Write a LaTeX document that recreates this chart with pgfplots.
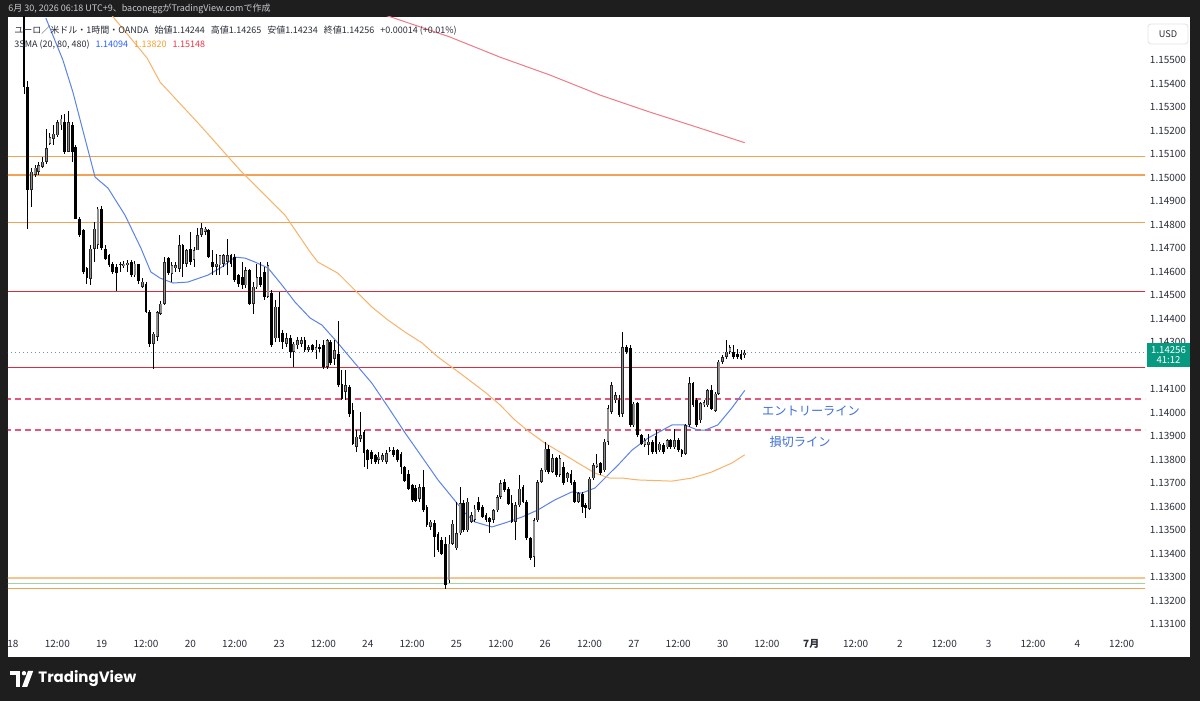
\documentclass[border=0pt]{standalone}
\usepackage{fontspec}
\setmainfont{Noto Sans CJK JP}
\newfontfamily\tvfont{Poppins}
\usepackage{pgfplots}
\usepackage{pgfplotstable}
\pgfplotsset{compat=1.18}
\definecolor{frame}{HTML}{1E1E1E}
\definecolor{hdr}{HTML}{C8CACF}
\definecolor{axtxt}{HTML}{2A2E39}
\definecolor{smablue}{HTML}{5B84E8}
\definecolor{smaorange}{HTML}{F7B36A}
\definecolor{smared}{HTML}{F07A88}
\definecolor{horange}{HTML}{F2A255}
\definecolor{levelred}{RGB}{214,48,62}
\definecolor{hpink}{HTML}{E4577A}
\definecolor{peach}{HTML}{F6C48F}
\definecolor{hgreen}{HTML}{A3D3A3}
\definecolor{tvteal}{HTML}{089981}
\definecolor{upgray}{HTML}{8E8E8E}
\definecolor{annblue}{HTML}{3F6FD8}
\definecolor{lgblue}{HTML}{2962FF}
\definecolor{lgorange}{HTML}{F59E2B}
\definecolor{lgred}{HTML}{F23645}
\definecolor{dotc}{HTML}{6E9C9C}
\definecolor{bordergray}{HTML}{E0E3EB}

\pgfplotstableread{
t o h l c
3 1.15820 1.15900 1.15358 1.15386
4 1.15386 1.15414 1.14783 1.14947
5 1.14947 1.15039 1.14876 1.15025
6 1.15013 1.15053 1.15003 1.15042
7 1.15025 1.15067 1.15013 1.15053
8 1.15046 1.15088 1.15039 1.15067
9 1.15067 1.15209 1.15060 1.15124
10 1.15145 1.15188 1.15138 1.15173
11 1.15166 1.15223 1.15138 1.15188
12 1.15181 1.15244 1.15173 1.15237
13 1.15223 1.15266 1.15202 1.15251
14 1.15237 1.15273 1.15103 1.15110
15 1.15110 1.15283 1.15107 1.15237
16 1.15223 1.15237 1.15067 1.15110
17 1.15131 1.15138 1.14823 1.14826
18 1.14826 1.14833 1.14748 1.14755
19 1.14776 1.14783 1.14592 1.14599
20 1.14613 1.14620 1.14549 1.14571
21 1.14571 1.14713 1.14542 1.14698
22 1.14698 1.14812 1.14642 1.14783
23 1.14713 1.14876 1.14698 1.14868
24 1.14868 1.14880 1.14691 1.14698
25 1.14698 1.14713 1.14649 1.14656
26 1.14670 1.14677 1.14620 1.14627
27 1.14634 1.14642 1.14592 1.14599
28 1.14620 1.14634 1.14517 1.14592
29 1.14630 1.14642 1.14599 1.14634
30 1.14625 1.14645 1.14613 1.14634
31 1.14627 1.14649 1.14599 1.14639
32 1.14639 1.14649 1.14578 1.14585
33 1.14585 1.14645 1.14578 1.14634
34 1.14630 1.14634 1.14549 1.14557
35 1.14535 1.14571 1.14528 1.14557
36 1.14549 1.14557 1.14425 1.14429
37 1.14429 1.14436 1.14280 1.14294
38 1.14294 1.14344 1.14188 1.14337
39 1.14323 1.14436 1.14308 1.14429
40 1.14422 1.14478 1.14415 1.14464
41 1.14464 1.14663 1.14457 1.14641
42 1.14656 1.14663 1.14585 1.14592
43 1.14592 1.14641 1.14556 1.14627
44 1.14613 1.14641 1.14599 1.14627
45 1.14613 1.14755 1.14599 1.14712
46 1.14712 1.14719 1.14578 1.14634
47 1.14634 1.14698 1.14620 1.14691
48 1.14698 1.14769 1.14627 1.14641
49 1.14649 1.14705 1.14620 1.14691
50 1.14691 1.14783 1.14691 1.14755
51 1.14755 1.14809 1.14748 1.14783
52 1.14769 1.14790 1.14755 1.14783
53 1.14776 1.14783 1.14656 1.14663
54 1.14641 1.14691 1.14585 1.14620
55 1.14620 1.14677 1.14585 1.14634
56 1.14627 1.14670 1.14585 1.14670
57 1.14634 1.14677 1.14620 1.14670
58 1.14641 1.14741 1.14585 1.14670
59 1.14670 1.14677 1.14620 1.14634
60 1.14663 1.14677 1.14556 1.14564
61 1.14585 1.14592 1.14535 1.14549
62 1.14578 1.14641 1.14528 1.14542
63 1.14542 1.14620 1.14528 1.14606
64 1.14606 1.14613 1.14457 1.14464
65 1.14464 1.14556 1.14422 1.14535
66 1.14535 1.14634 1.14528 1.14578
67 1.14578 1.14641 1.14535 1.14542
68 1.14599 1.14620 1.14478 1.14493
69 1.14493 1.14641 1.14486 1.14627
70 1.14507 1.14521 1.14280 1.14287
71 1.14316 1.14478 1.14301 1.14450
72 1.14450 1.14514 1.14301 1.14316
73 1.14337 1.14351 1.14273 1.14301
74 1.14294 1.14337 1.14280 1.14316
75 1.14316 1.14330 1.14233 1.14259
76 1.14259 1.14301 1.14195 1.14294
77 1.14287 1.14323 1.14273 1.14308
78 1.14294 1.14323 1.14280 1.14308
79 1.14308 1.14323 1.14259 1.14266
80 1.14268 1.14287 1.14259 1.14280
81 1.14287 1.14294 1.14259 1.14266
82 1.14266 1.14308 1.14230 1.14280
83 1.14280 1.14294 1.14259 1.14270
84 1.14290 1.14308 1.14188 1.14195
85 1.14195 1.14315 1.14188 1.14308
86 1.14301 1.14308 1.14202 1.14209
87 1.14230 1.14308 1.14202 1.14266
88 1.14250 1.14393 1.14110 1.14117
89 1.14124 1.14181 1.14053 1.14060
90 1.14088 1.14181 1.14053 1.14117
91 1.14110 1.14117 1.13982 1.13996
92 1.14010 1.14039 1.13861 1.13868
93 1.13854 1.13925 1.13833 1.13897
94 1.13890 1.14003 1.13876 1.13904
95 1.13918 1.13925 1.13769 1.13826
96 1.13840 1.13847 1.13762 1.13798
97 1.13833 1.13840 1.13783 1.13805
98 1.13819 1.13826 1.13783 1.13790
99 1.13798 1.13833 1.13783 1.13812
100 1.13798 1.13826 1.13790 1.13819
101 1.13790 1.13840 1.13783 1.13826
102 1.13840 1.13854 1.13833 1.13843
103 1.13843 1.13854 1.13812 1.13819
104 1.13840 1.13847 1.13790 1.13798
105 1.13826 1.13833 1.13741 1.13769
106 1.13769 1.13776 1.13705 1.13712
107 1.13741 1.13755 1.13670 1.13677
108 1.13691 1.13698 1.13620 1.13627
109 1.13680 1.13691 1.13620 1.13627
110 1.13635 1.13698 1.13620 1.13684
111 1.13684 1.13755 1.13578 1.13585
112 1.13599 1.13606 1.13514 1.13521
113 1.13514 1.13542 1.13500 1.13535
114 1.13528 1.13542 1.13387 1.13472
115 1.13486 1.13493 1.13408 1.13415
116 1.13457 1.13472 1.13394 1.13401
117 1.13443 1.13472 1.13252 1.13266
118 1.13287 1.13479 1.13273 1.13443
119 1.13443 1.13542 1.13436 1.13528
120 1.13422 1.13620 1.13415 1.13486
121 1.13486 1.13684 1.13479 1.13614
122 1.13614 1.13628 1.13493 1.13500
123 1.13500 1.13635 1.13493 1.13621
124 1.13536 1.13578 1.13529 1.13564
125 1.13543 1.13606 1.13536 1.13592
126 1.13621 1.13639 1.13578 1.13585
127 1.13599 1.13606 1.13550 1.13557
128 1.13564 1.13571 1.13536 1.13543
129 1.13550 1.13557 1.13486 1.13536
130 1.13543 1.13592 1.13529 1.13585
131 1.13585 1.13649 1.13578 1.13642
132 1.13642 1.13713 1.13635 1.13699
133 1.13706 1.13720 1.13663 1.13670
134 1.13677 1.13684 1.13607 1.13614
135 1.13614 1.13649 1.13529 1.13536
136 1.13536 1.13621 1.13458 1.13606
137 1.13606 1.13734 1.13599 1.13677
138 1.13684 1.13691 1.13614 1.13621
139 1.13621 1.13628 1.13458 1.13465
140 1.13465 1.13472 1.13373 1.13380
141 1.13387 1.13550 1.13344 1.13543
142 1.13543 1.13713 1.13536 1.13706
143 1.13706 1.13763 1.13699 1.13755
144 1.13755 1.13876 1.13748 1.13847
145 1.13847 1.13861 1.13741 1.13748
146 1.13748 1.13826 1.13741 1.13805
147 1.13805 1.13812 1.13727 1.13734
148 1.13734 1.13820 1.13727 1.13805
149 1.13770 1.13790 1.13692 1.13699
150 1.13720 1.13748 1.13706 1.13741
151 1.13741 1.13755 1.13692 1.13699
152 1.13706 1.13713 1.13614 1.13621
153 1.13621 1.13663 1.13614 1.13656
154 1.13656 1.13663 1.13571 1.13599
155 1.13606 1.13614 1.13550 1.13592
156 1.13592 1.13727 1.13585 1.13720
157 1.13720 1.13784 1.13713 1.13777
158 1.13770 1.13826 1.13763 1.13784
159 1.13784 1.13790 1.13734 1.13741
160 1.13755 1.13890 1.13748 1.13876
161 1.13876 1.14032 1.13862 1.14017
162 1.14003 1.14131 1.13996 1.14117
163 1.14053 1.14088 1.14039 1.14074
164 1.14053 1.14074 1.13982 1.13989
165 1.13996 1.14344 1.13982 1.14280
166 1.14280 1.14287 1.14251 1.14259
167 1.14273 1.14287 1.13940 1.13947
168 1.13947 1.14046 1.13940 1.14039
169 1.14039 1.14046 1.13897 1.13904
170 1.13904 1.13911 1.13862 1.13869
171 1.13862 1.13890 1.13855 1.13883
172 1.13862 1.13911 1.13819 1.13876
173 1.13876 1.13883 1.13826 1.13833
174 1.13900 1.13925 1.13826 1.13833
175 1.13840 1.13876 1.13833 1.13869
176 1.13862 1.13869 1.13826 1.13833
177 1.13854 1.13890 1.13847 1.13883
178 1.13883 1.13890 1.13847 1.13854
179 1.13854 1.13932 1.13847 1.13883
180 1.13883 1.13890 1.13833 1.13840
181 1.13840 1.13847 1.13812 1.13826
182 1.13826 1.13954 1.13819 1.13947
183 1.13947 1.14152 1.13940 1.14124
184 1.14124 1.14131 1.14025 1.14032
185 1.14053 1.14060 1.13940 1.13947
186 1.13968 1.14046 1.13954 1.14039
187 1.14032 1.14053 1.14025 1.14046
188 1.14032 1.14102 1.14025 1.14095
189 1.14095 1.14117 1.14010 1.14017
190 1.14010 1.14088 1.14003 1.14081
191 1.14081 1.14223 1.14074 1.14216
192 1.14216 1.14244 1.14209 1.14237
193 1.14237 1.14308 1.14230 1.14259
194 1.14259 1.14287 1.14251 1.14280
195 1.14259 1.14287 1.14230 1.14237
196 1.14251 1.14273 1.14230 1.14237
197 1.14251 1.14266 1.14223 1.14230
198 1.14244 1.14265 1.14234 1.14256
}\candles

\begin{document}
\begin{tikzpicture}
\useasboundingbox (-4pt,-34.5pt) rectangle (596pt,316pt);
\fill[frame] (-4pt,-34.5pt) rectangle (596pt,316pt);
\fill[white] (0pt,-12.5pt) rectangle (591pt,307.5pt);
\begin{axis}[
  at={(0pt,0pt)}, anchor=south west, scale only axis,
  width=568.5pt, height=307.5pt,
  xmin=-1.35, xmax=306.3, ymin=1.13066, ymax=1.15683,
  axis line style={draw=none}, tick style={draw=none},
  /pgf/number format/assume math mode=true,
  scaled y ticks=false,
  ytick={1.131,1.132,1.133,1.134,1.135,1.136,1.137,1.138,1.139,1.140,1.141,1.143,1.144,1.145,1.146,1.147,1.148,1.149,1.150,1.151,1.152,1.153,1.154,1.155},
  yticklabel pos=right,
  yticklabel style={/pgf/number format/fixed, /pgf/number format/fixed zerofill, /pgf/number format/precision=5, font=\fontsize{5}{6}\selectfont, text=axtxt, anchor=center, xshift=11.5pt},
  xtick={0,12,24,36,48,60,72,84,96,108,120,132,144,156,168,180,192,204,216,228,240,252,264,276,288,300},
  xticklabels={18,12:00,19,12:00,20,12:00,23,12:00,24,12:00,25,12:00,26,12:00,27,12:00,30,12:00,\textbf{7月},12:00,2,12:00,3,12:00,4,12:00},
  xticklabel style={font=\fontsize{5}{6}\selectfont, text=axtxt, anchor=center, yshift=-6pt},
  clip=true,
]
% horizontal levels
\addplot[color=horange, line width=0.6pt, forget plot] coordinates {(-5,1.15089) (310,1.15089)};
\addplot[color=horange, line width=0.6pt, forget plot] coordinates {(-5,1.15011) (310,1.15011)};
\addplot[color=horange, line width=0.6pt, forget plot] coordinates {(-5,1.14809) (310,1.14809)};
\addplot[color=levelred, line width=0.6pt, forget plot] coordinates {(-5,1.14515) (310,1.14515)};
\addplot[color=levelred, line width=0.6pt, forget plot] coordinates {(-5,1.14191) (310,1.14191)};
\addplot[color=hpink, line width=0.7pt, dash pattern=on 3pt off 2pt, forget plot] coordinates {(-5,1.14058) (310,1.14058)};
\addplot[color=hpink, line width=0.7pt, dash pattern=on 3pt off 2pt, forget plot] coordinates {(-5,1.13925) (310,1.13925)};
\addplot[color=peach, line width=0.6pt, forget plot] coordinates {(-5,1.13296) (310,1.13296)};
\addplot[color=hgreen, line width=0.6pt, forget plot] coordinates {(-5,1.13272) (310,1.13272)};
\addplot[color=horange, line width=0.6pt, forget plot] coordinates {(-5,1.13252) (310,1.13252)};
\addplot[color=dotc, line width=0.4pt, dash pattern=on 0.5pt off 1.5pt, forget plot] coordinates {(-5,1.14256) (310,1.14256)};
% SMA lines
\addplot[color=smablue, line width=0.5pt, forget plot] coordinates {(8.9,1.15678) (13.5,1.15500) (16.2,1.15364) (22.2,1.15002) (25.7,1.14955) (30.3,1.14840) (34.6,1.14700) (37.3,1.14598) (39.8,1.14572) (43.3,1.14551) (47.3,1.14555) (52.8,1.14585) (56.5,1.14619) (60.1,1.14661) (62.8,1.14657) (65.5,1.14640) (69.0,1.14615) (72.8,1.14542) (76.3,1.14470) (80.4,1.14402) (83.6,1.14372) (87.9,1.14296) (92.5,1.14210) (97.1,1.14125) (101.5,1.14023) (106.1,1.13913) (110.7,1.13810) (115.0,1.13713) (118.8,1.13640) (122.3,1.13572) (125.0,1.13534) (129.6,1.13513) (133.1,1.13530) (137.7,1.13555) (142.0,1.13585) (146.6,1.13628) (151.2,1.13662) (153.9,1.13657) (157.5,1.13679) (161.5,1.13742) (163.7,1.13776) (167.5,1.13840) (171.8,1.13891) (178.3,1.13947) (181.8,1.13947) (185.3,1.13925) (187.2,1.13925) (190.7,1.13947) (194.5,1.14019) (198,1.14094)};
\addplot[color=smaorange, line width=0.5pt, forget plot] coordinates {(26.8,1.15689) (36.3,1.15508) (39.8,1.15406) (50.6,1.15223) (61.4,1.15032) (73.6,1.14840) (80.4,1.14683) (82.5,1.14640) (87.9,1.14593) (92.5,1.14521) (97.1,1.14449) (101.5,1.14393) (106.1,1.14342) (110.7,1.14296) (115.0,1.14236) (120.9,1.14168) (127.7,1.14087) (131.8,1.14032) (135.8,1.13968) (139.1,1.13925) (143.9,1.13870) (148.5,1.13827) (152.9,1.13785) (157.5,1.13742) (161.5,1.13721) (164.8,1.13721) (169.1,1.13713) (178.3,1.13708) (183.7,1.13721) (189.1,1.13747) (194.5,1.13785) (198,1.13820)};
\addplot[color=smared, line width=0.5pt, forget plot] coordinates {(100,1.15695) (118.2,1.15598) (131.8,1.15512) (145.3,1.15436) (158.8,1.15351) (172.4,1.15278) (185.9,1.15210) (198,1.15148)};
% candles: wicks
\addplot[draw=none, mark=none, forget plot,
  error bars/.cd, y dir=both, y explicit, error mark=none,
  error bar style={line width=0.5pt, draw=black, solid}]
  table[x=t, y expr={(\thisrow{h}+\thisrow{l})/2}, y error expr={(\thisrow{h}-\thisrow{l})/2}] {\candles};
% down bodies
\addplot[draw=none, mark=none, forget plot,
  restrict expr to domain={\thisrow{c}-\thisrow{o}}{-1:-0.0000001},
  error bars/.cd, y dir=both, y explicit, error mark=none,
  error bar style={line width=1.4pt, draw=black, solid}]
  table[x=t, y expr={(\thisrow{o}+\thisrow{c})/2}, y error expr={max(abs(\thisrow{o}-\thisrow{c})/2,0.000012)}] {\candles};
% up bodies outline
\addplot[draw=none, mark=none, forget plot,
  restrict expr to domain={\thisrow{c}-\thisrow{o}}{0:1},
  error bars/.cd, y dir=both, y explicit, error mark=none,
  error bar style={line width=1.4pt, draw=black!85, solid}]
  table[x=t, y expr={(\thisrow{o}+\thisrow{c})/2}, y error expr={max(abs(\thisrow{o}-\thisrow{c})/2,0.000012)}] {\candles};
% up bodies fill
\addplot[draw=none, mark=none, forget plot,
  restrict expr to domain={\thisrow{c}-\thisrow{o}}{0:1},
  error bars/.cd, y dir=both, y explicit, error mark=none,
  error bar style={line width=0.7pt, draw=upgray, solid}]
  table[x=t, y expr={(\thisrow{o}+\thisrow{c})/2}, y error expr={max(abs(\thisrow{o}-\thisrow{c})/2-0.000025,0)}] {\candles};
\end{axis}
% header bar
\node[anchor=west, text=hdr, font=\fontsize{4.5}{5}\selectfont, inner sep=0pt] at (0pt,311.5pt) {6月 30, 2026 06:18 UTC+9、baconeggがTradingView.comで作成};
% legend
\node[anchor=west, text=axtxt, font=\fontsize{4.5}{5}\selectfont, inner sep=0pt] at (3pt,300.5pt) {ユーロ／米ドル・1時間・OANDA\hspace{3pt}始値1.14244\hspace{3pt}高値1.14265\hspace{3pt}安値1.14234\hspace{3pt}終値1.14256\hspace{3pt}+0.00014 (+0.01\%)};
\node[anchor=west, text=axtxt, font=\fontsize{4.5}{5}\selectfont, inner sep=0pt] at (3pt,293.5pt) {3SMA (20, 80, 480)\hspace{3pt}\textcolor{lgblue}{1.14094}\hspace{3pt}\textcolor{lgorange}{1.13820}\hspace{3pt}\textcolor{lgred}{1.15148}};
% annotations
\node[text=annblue, font=\fontsize{6.1}{7}\selectfont, inner sep=0pt] at (401.5pt,110.5pt) {エントリーライン};
\node[text=annblue, font=\fontsize{6.1}{7}\selectfont, inner sep=0pt] at (396pt,95pt) {損切ライン};
% USD box
\node[draw=bordergray, line width=0.4pt, rounded corners=1.5pt, minimum width=20pt, minimum height=10pt, inner sep=0pt, text=axtxt, font=\fontsize{4.6}{5}\selectfont] at (580pt,299pt) {USD};
% last price label
\node[fill=tvteal, minimum width=21.5pt, minimum height=12pt, inner sep=0pt, text=white, align=center, font=\fontsize{4.8}{5.4}\selectfont] at (580.25pt,138.5pt) {1.14256\\41:12};
% TradingView logo
\fill[white] (1pt,-19.5pt) rectangle (6pt,-21.7pt);
\fill[white] (3.8pt,-19.5pt) rectangle (6pt,-27.5pt);
\fill[white] (8pt,-20.6pt) circle (1.1pt);
\fill[white] (7pt,-27.5pt) -- (9.6pt,-27.5pt) -- (12.6pt,-19.5pt) -- (10pt,-19.5pt) -- cycle;
\node[anchor=west, text=white, font=\tvfont\bfseries\fontsize{7.5}{8}\selectfont, inner sep=0pt] at (15pt,-23.5pt) {TradingView};
\end{tikzpicture}
\end{document}
